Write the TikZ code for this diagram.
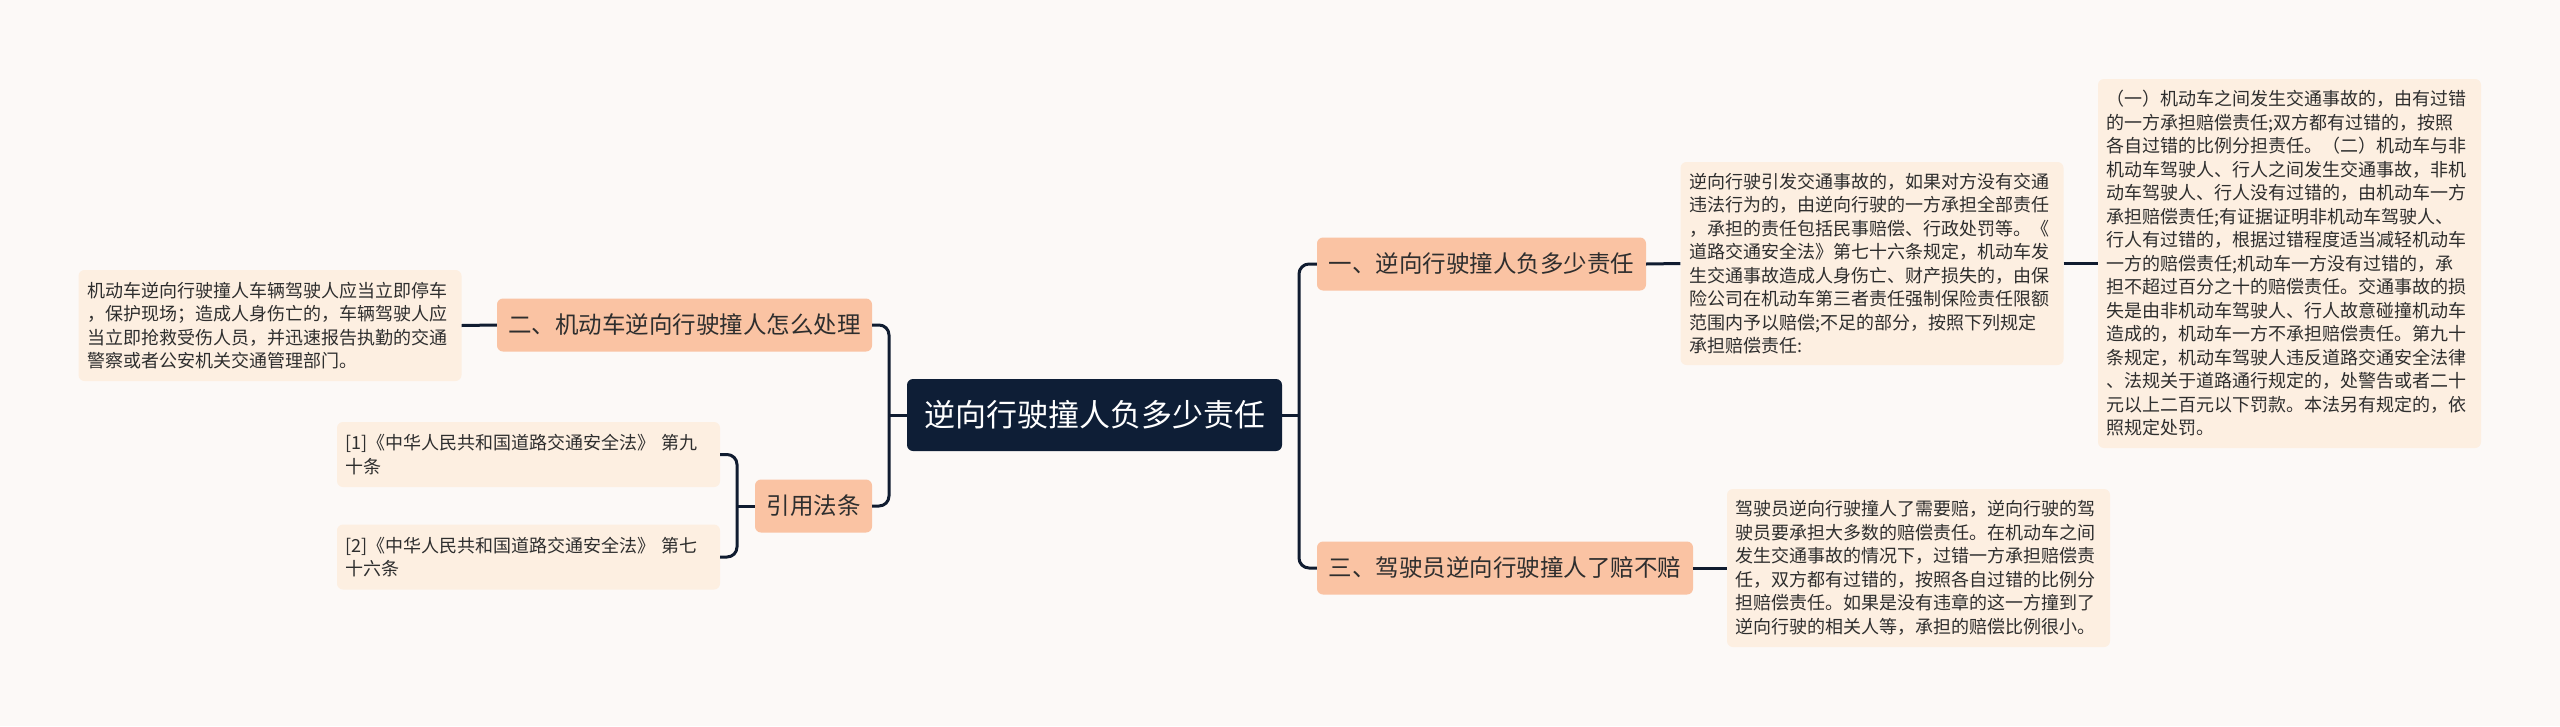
\documentclass[tikz,border=0pt]{standalone}
\usepackage{fontspec}
\setmainfont{Noto Sans CJK SC}
\definecolor{bgc}{HTML}{FCF9F7}
\definecolor{rootc}{HTML}{0E1E36}
\definecolor{branchc}{HTML}{FAC3A3}
\definecolor{leafc}{HTML}{FDEFE1}
\definecolor{linec}{HTML}{101C30}
\definecolor{txtc}{HTML}{2E2E2E}
\tikzset{
  rootbox/.style={fill=rootc, rounded corners=6pt, text=white, inner sep=0pt,
    font=\fontsize{31pt}{36pt}\selectfont, minimum width=375pt, minimum height=72pt},
  branchbox/.style={fill=branchc, rounded corners=6pt, text=txtc, inner sep=0pt,
    font=\fontsize{23.5pt}{28pt}\selectfont, minimum height=53pt},
  leafbox/.style={fill=leafc, rounded corners=6pt, text=txtc, align=left,
    text width=366pt, inner xsep=8.5pt, inner ysep=0pt,
    font=\fontsize{18pt}{23.5pt}\selectfont},
  conn/.style={draw=linec, line width=3pt},
  connr/.style={draw=linec, line width=3pt, rounded corners=10pt},
}
\begin{document}
\begin{tikzpicture}[x=1pt,y=-1pt]
\fill[bgc] (0,0) rectangle (2560,726);
\useasboundingbox (0,0) rectangle (2560,726);

% root
\node[rootbox] (root) at (1094.5,415) {逆向行驶撞人负多少责任};

% right branches
\node[branchbox, minimum width=329pt] (b1) at (1481.5,264) {一、逆向行驶撞人负多少责任};
\node[branchbox, minimum width=376pt] (b3) at (1505,568) {三、驾驶员逆向行驶撞人了赔不赔};

% left branches
\node[branchbox, minimum width=375pt] (b2) at (684.5,325) {二、机动车逆向行驶撞人怎么处理};
\node[branchbox, minimum width=117pt] (ref) at (813.5,506) {引用法条};

% leaves
\node[leafbox, minimum height=203pt] (l1) at (1872,263.5) {逆向行驶引发交通事故的，如果对方没有交通\\
违法行为的，由逆向行驶的一方承担全部责任\\
，承担的责任包括民事赔偿、行政处罚等。《\\
道路交通安全法》第七十六条规定，机动车发\\
生交通事故造成人身伤亡、财产损失的，由保\\
险公司在机动车第三者责任强制保险责任限额\\
范围内予以赔偿;不足的部分，按照下列规定\\
承担赔偿责任:};

\node[leafbox, minimum height=369pt] (l1b) at (2289.5,263.5) {（一）机动车之间发生交通事故的，由有过错\\
的一方承担赔偿责任;双方都有过错的，按照\\
各自过错的比例分担责任。（二）机动车与非\\
机动车驾驶人、行人之间发生交通事故，非机\\
动车驾驶人、行人没有过错的，由机动车一方\\
承担赔偿责任;有证据证明非机动车驾驶人、\\
行人有过错的，根据过错程度适当减轻机动车\\
一方的赔偿责任;机动车一方没有过错的，承\\
担不超过百分之十的赔偿责任。交通事故的损\\
失是由非机动车驾驶人、行人故意碰撞机动车\\
造成的，机动车一方不承担赔偿责任。第九十\\
条规定，机动车驾驶人违反道路交通安全法律\\
、法规关于道路通行规定的，处警告或者二十\\
元以上二百元以下罚款。本法另有规定的，依\\
照规定处罚。};

\node[leafbox, minimum height=158pt] (l3) at (1918.5,568) {驾驶员逆向行驶撞人了需要赔，逆向行驶的驾\\
驶员要承担大多数的赔偿责任。在机动车之间\\
发生交通事故的情况下，过错一方承担赔偿责\\
任，双方都有过错的，按照各自过错的比例分\\
担赔偿责任。如果是没有违章的这一方撞到了\\
逆向行驶的相关人等，承担的赔偿比例很小。};

\node[leafbox, minimum height=111pt] (l2) at (270,325.5) {机动车逆向行驶撞人车辆驾驶人应当立即停车\\
，保护现场；造成人身伤亡的，车辆驾驶人应\\
当立即抢救受伤人员，并迅速报告执勤的交通\\
警察或者公安机关交通管理部门。};

\node[leafbox, minimum height=65pt] (r1) at (528.5,454.5) {[1]《中华人民共和国道路交通安全法》 第九\\
十条};
\node[leafbox, minimum height=65pt] (r2) at (528.5,557) {[2]《中华人民共和国道路交通安全法》 第七\\
十六条};

% junction coordinates
\coordinate (jr) at (1299,415);
\coordinate (jl) at (889,415);
\coordinate (jf) at (737,506);

% connectors
\draw[conn] (root.east) -- (jr);
\draw[connr] (b1.west) -| (jr) |- (b3.west);
\draw[conn] (root.west) -- (jl);
\draw[connr] (b2.east) -| (jl) |- (ref.east);
\draw[conn] (ref.west) -- (jf);
\draw[connr] (r1.east) -| (jf) |- (r2.east);

\draw[conn] (b1.east) -- (l1.west);
\draw[conn] (l1.east) -- (l1b.west);
\draw[conn] (b3.east) -- (l3.west);
\draw[conn] (b2.west) -- (l2.east);
\end{tikzpicture}
\end{document}
